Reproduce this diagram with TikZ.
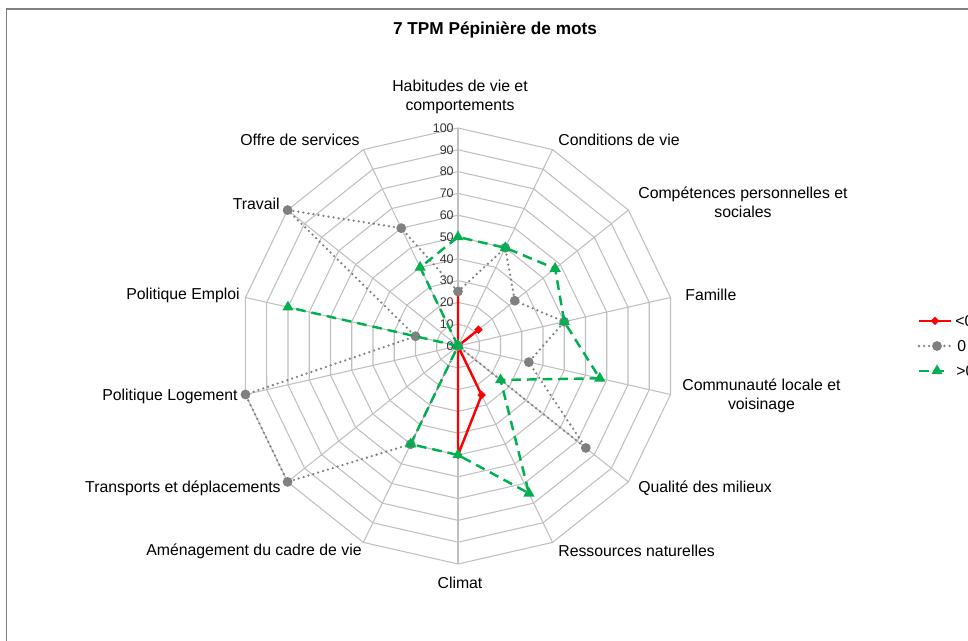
\documentclass[tikz,border=0pt]{standalone}
\usepackage{fontspec}
\setmainfont{Liberation Sans}
\usepackage{tikz}
\usetikzlibrary{shapes.geometric}
\definecolor{gridgray}{RGB}{191,191,191}
\definecolor{dotgray}{RGB}{128,128,128}
\definecolor{posgreen}{RGB}{0,176,80}
\tikzset{grid/.style={draw=gridgray,line width=0.6pt},
  axlab/.style={inner sep=0pt,align=center,font=\fontsize{9}{10.6}\selectfont},
  tick/.style={inner sep=0pt,anchor=east,text=black!80,font=\fontsize{7.1}{8}\selectfont},
  negline/.style={draw=red,line width=1.4pt,line join=round},
  zeroline/.style={draw=dotgray,line width=1.45pt,line cap=round,dash pattern=on 0pt off 2.9pt},
  posline/.style={draw=posgreen,line width=1.4pt,dash pattern=on 5.5pt off 3.4pt},
  negmark/.style={diamond,fill=red,inner sep=0pt,minimum size=5pt},
  zeromark/.style={circle,fill=dotgray,inner sep=0pt,minimum size=5.6pt},
  posmark/.style={regular polygon,regular polygon sides=3,fill=posgreen,inner sep=0pt,minimum size=7.4pt}}

\begin{document}
\begin{tikzpicture}[x=0.02cm,y=0.02cm]
    \useasboundingbox (-458,-295) rectangle (510,346);
    \draw[dotgray,line width=1.1pt] (-451.5,-300) -- (-451.5,337) -- (520,337);

    \node[font=\bfseries\fontsize{9.8}{12}\selectfont] (title) at (37,316) {7 TPM Pépinière de mots};

    \coordinate (o) at (0,0);
    \foreach \j in {0,...,13}
        \coordinate (a\j) at ({90-\j*360/14}:218);
    \foreach \k in {1,...,10}
        \draw[grid] (90:{21.8*\k}) \foreach \j in {1,...,13}{ -- ({90-\j*360/14}:{21.8*\k})} -- cycle;
    \foreach \j in {0,...,13}
        \draw[grid] (o) -- (a\j);
    \foreach \k in {0,10,...,100}
        \node[tick] (t\k) at (-4,{2.18*\k}) {\k};

    \foreach \x/\y/\a/\t [count=\i] in {
        2/232/south/{Habitudes de vie et\\comportements},
        100/206/west/{Conditions de vie},
        180/144/west/{Compétences personnelles et\\sociales},
        227/51/west/{Famille},
        224/-50/west/{Communauté locale et\\voisinage},
        180/-142/west/{Qualité des milieux},
        100/-205/west/{Ressources naturelles},
        2/-237/center/{Climat},
        -96/-205/east/{Aménagement du cadre de vie},
        -177/-142/east/{Transports et déplacements},
        -220/-50/east/{Politique Logement},
        -218/51/east/{Politique Emploi},
        -178/142/east/{Travail},
        -98/206/east/{Offre de services}}
        \node[axlab,anchor=\a] (lab\i) at (\x,\y) {\t};

    % series
    \foreach \v [count=\i from 0] in {25,0,12,0,0,0,25,50,0,0,0,0,0,0}
        \coordinate (n\i) at ({90-\i*360/14}:{2.18*\v});
    \foreach \v [count=\i from 0] in {25,50,33.3,50,33.3,75,0,0,50,100,100,20,100,60}
        \coordinate (z\i) at ({90-\i*360/14}:{2.18*\v});
    \foreach \v [count=\i from 0] in {50,50,57,50,66.7,25,75,50,50,0,0,80,0,40}
        \coordinate (p\i) at ({90-\i*360/14}:{2.18*\v});

    \draw[negline] (n0) \foreach \i in {1,...,13}{ -- (n\i)} -- cycle;
    \foreach \i in {0,...,13}
        \node[negmark] (nm\i) at (n\i) {};
    \draw[zeroline] (z0) \foreach \i in {1,...,13}{ -- (z\i)} -- cycle;
    \foreach \i in {0,...,13}
        \node[zeromark] (zm\i) at (z\i) {};
    \draw[posline] (p12) -- (p13) \foreach \i in {0,...,11}{ -- (p\i)};
    \foreach \i in {0,...,13}
        \node[posmark] (pm\i) at (p\i) {};

    % legend
    \coordinate (l1a) at (461,25);
    \coordinate (l1b) at (493,25);
    \draw[negline] (l1a) -- (l1b);
    \node[negmark] (lm1) at (477,25) {};
    \node[axlab,anchor=west] (lt1) at (497,25) {<0};
    \coordinate (l2a) at (461,0);
    \coordinate (l2b) at (495,0);
    \draw[zeroline] (l2a) -- (l2b);
    \node[zeromark] (lm2) at (479,0) {};
    \node[axlab,anchor=west] (lt2) at (499,0) {0};
    \coordinate (l3a) at (461,-25);
    \coordinate (l3b) at (491,-25);
    \draw[posline] (l3a) -- (l3b);
    \node[posmark] (lm3) at (479,-25) {};
    \node[axlab,anchor=west] (lt3) at (498,-25) {>0};
\end{tikzpicture}
\end{document}
